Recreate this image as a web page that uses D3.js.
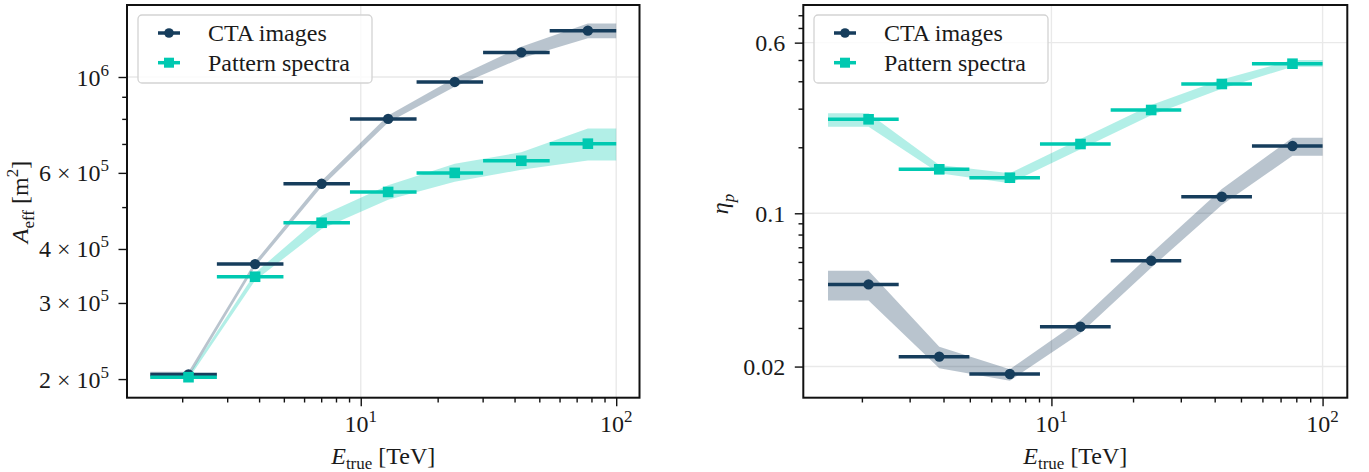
<!DOCTYPE html>
<html>
<head>
<meta charset="utf-8">
<script src="https://cdn.jsdelivr.net/npm/d3@7"></script>
<style>
  html, body { margin: 0; padding: 0; background: #fff; }
  svg text { font-family: "Liberation Serif", "Times New Roman", serif; fill: #1a1a1a; }
</style>
</head>
<body>
<svg id="chart" width="1369" height="472"></svg>
<script>
// Energy binning (TeV): logarithmic bin edges and the marker position of each bin
const energyEdges   = [1.5, 2.734, 4.982, 9.073, 16.54, 30.12, 54.90, 100];
const energyCenters = [2.117, 3.858, 7.028, 12.80, 23.33, 42.51, 77.45];

// Effective area A_eff [m^2] with its uncertainty band
const aeffImages      = [2.05e5, 3.69e5, 5.66e5, 8.00e5, 9.74e5, 1.14e6, 1.28e6];
const aeffImagesLow   = [2.02e5, 3.64e5, 5.57e5, 7.85e5, 9.50e5, 1.105e6, 1.229e6];
const aeffImagesHigh  = [2.08e5, 3.74e5, 5.75e5, 8.15e5, 9.95e5, 1.175e6, 1.33e6];
const aeffSpectra     = [2.02e5, 3.45e5, 4.60e5, 5.42e5, 6.00e5, 6.40e5, 7.01e5];
const aeffSpectraLow  = [2.00e5, 3.38e5, 4.45e5, 5.20e5, 5.72e5, 6.10e5, 6.41e5];
const aeffSpectraHigh = [2.04e5, 3.52e5, 4.78e5, 5.62e5, 6.30e5, 6.70e5, 7.60e5];

// Proton contamination eta_p with its uncertainty band
const etaImages      = [0.0474, 0.0222, 0.0185, 0.0304, 0.0608, 0.119, 0.2027];
const etaImagesLow   = [0.0400, 0.01964, 0.01725, 0.02836, 0.0565, 0.109, 0.183];
const etaImagesHigh  = [0.0547, 0.02466, 0.01946, 0.0326, 0.0655, 0.129, 0.2212];
const etaSpectra     = [0.2683, 0.1587, 0.1453, 0.207, 0.2958, 0.3887, 0.481];
const etaSpectraLow  = [0.2482, 0.1522, 0.1370, 0.196, 0.280, 0.370, 0.466];
const etaSpectraHigh = [0.2858, 0.1661, 0.1522, 0.218, 0.312, 0.408, 0.500];

// Series names and colours
const seriesNames  = ["CTA images", "Pattern spectra"];
const seriesColors = ["#163d5c", "#00c9b1"];
const seriesMarks  = ["circle", "square"];

// Axis ticks
const energyTicks       = [10, 100];
const energyTickLabels  = [["10", "1"], ["10", "2"]];
const energyMinorTicks  = [2, 3, 4, 5, 6, 7, 8, 9, 20, 30, 40, 50, 60, 70, 80, 90];
const aeffTicks         = [2e5, 3e5, 4e5, 6e5, 1e6];
const aeffTickLabels    = [["2 × 10", "5"], ["3 × 10", "5"], ["4 × 10", "5"], ["6 × 10", "5"], ["10", "6"]];
const aeffMinorTicks    = [5e5, 7e5, 8e5, 9e5];
const aeffGrid          = [1e6];
const etaTicks          = [0.02, 0.1, 0.6];
const etaTickLabels     = [["0.02"], ["0.1"], ["0.6"]];
const etaMinorTicks     = [0.03, 0.04, 0.05, 0.06, 0.07, 0.08, 0.09, 0.2, 0.3, 0.4, 0.5, 0.7, 0.8];

const FONT = 24, SMALL = 17;
const svg = d3.select("#chart");

// Render a sequence of text parts with optional italics and vertical shifts
function richText(g, parts) {
  const t = g.append("text").attr("font-size", FONT);
  let prev = 0;
  parts.forEach(p => {
    const shift = p.shift || 0;
    const s = t.append("tspan").text(p.t)
      .attr("font-size", p.size || FONT)
      .attr("dy", shift - prev);
    if (p.italic) s.attr("font-style", "italic");
    prev = shift;
  });
  return t;
}

function bandPoints(lo, hi) {
  const xs = [energyEdges[0], ...energyCenters, energyEdges[energyEdges.length - 1]];
  const l = [lo[0], ...lo, lo[lo.length - 1]];
  const h = [hi[0], ...hi, hi[hi.length - 1]];
  return xs.map((e, i) => ({ e, lo: l[i], hi: h[i] }));
}

const xLimits = [1.2161, 123.36];

const panels = [
  {
    left: 127, right: 639.5, top: 5, bottom: 397.7,
    yDomain: [1.811e5, 1.4676e6],
    yTicks: aeffTicks, yTickLabels: aeffTickLabels, yMinor: aeffMinorTicks, yGrid: aeffGrid,
    series: [
      { v: aeffImages,  lo: aeffImagesLow,  hi: aeffImagesHigh },
      { v: aeffSpectra, lo: aeffSpectraLow, hi: aeffSpectraHigh }
    ],
    legendX: 138,
    yTitle: [{ t: "A", italic: true }, { t: "eff", size: SMALL, shift: 5.5 }, { t: " [m" }, { t: "2", size: SMALL, shift: -10 }, { t: "]" }],
    yTitleX: 28, yTitleY: 202
  },
  {
    left: 803.3, right: 1347.3, top: 5, bottom: 397.7,
    yDomain: [0.014424, 0.8909],
    yTicks: etaTicks, yTickLabels: etaTickLabels, yMinor: etaMinorTicks, yGrid: etaTicks,
    series: [
      { v: etaImages,  lo: etaImagesLow,  hi: etaImagesHigh },
      { v: etaSpectra, lo: etaSpectraLow, hi: etaSpectraHigh }
    ],
    legendX: 814,
    yTitle: [{ t: "η", italic: true }, { t: "p", italic: true, size: SMALL, shift: 5.5 }],
    yTitleX: 728, yTitleY: 204
  }
];

panels.forEach(P => {
  const x = d3.scaleLog().domain(xLimits).range([P.left, P.right]);
  const y = d3.scaleLog().domain(P.yDomain).range([P.bottom, P.top]);
  const g = svg.append("g");

  // grid
  const grid = g.append("g").attr("stroke", "#e9e9e9").attr("stroke-width", 1.4);
  energyTicks.forEach(e => grid.append("line")
    .attr("x1", x(e)).attr("x2", x(e)).attr("y1", P.top).attr("y2", P.bottom));
  P.yGrid.forEach(v => grid.append("line")
    .attr("x1", P.left).attr("x2", P.right).attr("y1", y(v)).attr("y2", y(v)));

  // uncertainty bands
  const area = d3.area().x(d => x(d.e)).y0(d => y(d.lo)).y1(d => y(d.hi));
  P.series.forEach((s, k) => {
    g.append("path").datum(bandPoints(s.lo, s.hi))
      .attr("d", area).attr("fill", seriesColors[k]).attr("fill-opacity", 0.3);
  });

  // horizontal bin bars and markers
  P.series.forEach((s, k) => {
    const c = seriesColors[k];
    const sg = g.append("g");
    s.v.forEach((v, i) => {
      sg.append("line")
        .attr("x1", x(energyEdges[i])).attr("x2", x(energyEdges[i + 1]))
        .attr("y1", y(v)).attr("y2", y(v))
        .attr("stroke", c).attr("stroke-width", 3.5);
      if (seriesMarks[k] === "circle") {
        sg.append("circle").attr("cx", x(energyCenters[i])).attr("cy", y(v)).attr("r", 5.2).attr("fill", c);
      } else {
        sg.append("rect").attr("x", x(energyCenters[i]) - 5.3).attr("y", y(v) - 5.3)
          .attr("width", 10.6).attr("height", 10.6).attr("fill", c);
      }
    });
  });

  // axes: tick marks
  const styleAxis = a => { a.select(".domain").remove(); a.selectAll(".tick line").attr("stroke", "#111").attr("stroke-width", 1.4); a.selectAll(".tick text").remove(); };
  g.append("g").attr("transform", `translate(0,${P.bottom})`)
    .call(d3.axisBottom(x).tickValues(energyTicks).tickSize(8.5).tickFormat("")).call(styleAxis);
  g.append("g").attr("transform", `translate(0,${P.bottom})`)
    .call(d3.axisBottom(x).tickValues(energyMinorTicks).tickSize(4.8).tickFormat("")).call(styleAxis);
  g.append("g").attr("transform", `translate(${P.left},0)`)
    .call(d3.axisLeft(y).tickValues(P.yTicks).tickSize(8.5).tickFormat("")).call(styleAxis);
  g.append("g").attr("transform", `translate(${P.left},0)`)
    .call(d3.axisLeft(y).tickValues(P.yMinor).tickSize(4.8).tickFormat("")).call(styleAxis);

  // tick labels
  energyTicks.forEach((e, i) => {
    const lab = energyTickLabels[i];
    richText(g, [{ t: lab[0] }, { t: lab[1], size: SMALL, shift: -10 }])
      .attr("x", x(e)).attr("y", 432).attr("text-anchor", "middle");
  });
  P.yTicks.forEach((v, i) => {
    const lab = P.yTickLabels[i];
    const parts = [{ t: lab[0] }];
    if (lab[1]) parts.push({ t: lab[1], size: SMALL, shift: -10 });
    richText(g, parts).attr("x", P.left - 18).attr("y", y(v) + 8.5).attr("text-anchor", "end");
  });

  // axis titles
  richText(g, [{ t: "E", italic: true }, { t: "true", size: SMALL, shift: 5 }, { t: " [TeV]" }])
    .attr("x", (P.left + P.right) / 2).attr("y", 463.5).attr("text-anchor", "middle");
  richText(g, P.yTitle).attr("text-anchor", "middle")
    .attr("transform", `translate(${P.yTitleX},${P.yTitleY}) rotate(-90)`);

  // legend
  const lg = g.append("g");
  lg.append("rect").attr("x", P.legendX).attr("y", 15).attr("width", 234).attr("height", 68)
    .attr("rx", 4).attr("fill", "#fff").attr("fill-opacity", 0.8)
    .attr("stroke", "#d3d3d3").attr("stroke-width", 1.3);
  seriesNames.forEach((name, k) => {
    const ly = 33 + k * 29.7;
    const lx = P.legendX + 20;
    const c = seriesColors[k];
    lg.append("line").attr("x1", lx).attr("x2", lx + 22).attr("y1", ly).attr("y2", ly)
      .attr("stroke", c).attr("stroke-width", 3.5);
    if (seriesMarks[k] === "circle") lg.append("circle").attr("cx", lx + 11).attr("cy", ly).attr("r", 4.8).attr("fill", c);
    else lg.append("rect").attr("x", lx + 11 - 5).attr("y", ly - 5).attr("width", 10).attr("height", 10).attr("fill", c);
    lg.append("text").attr("x", P.legendX + 70).attr("y", ly + 8).attr("font-size", FONT).text(name);
  });

  // frame
  g.append("rect").attr("x", P.left).attr("y", P.top)
    .attr("width", P.right - P.left).attr("height", P.bottom - P.top)
    .attr("fill", "none").attr("stroke", "#111").attr("stroke-width", 2);
});
</script>
</body>
</html>
